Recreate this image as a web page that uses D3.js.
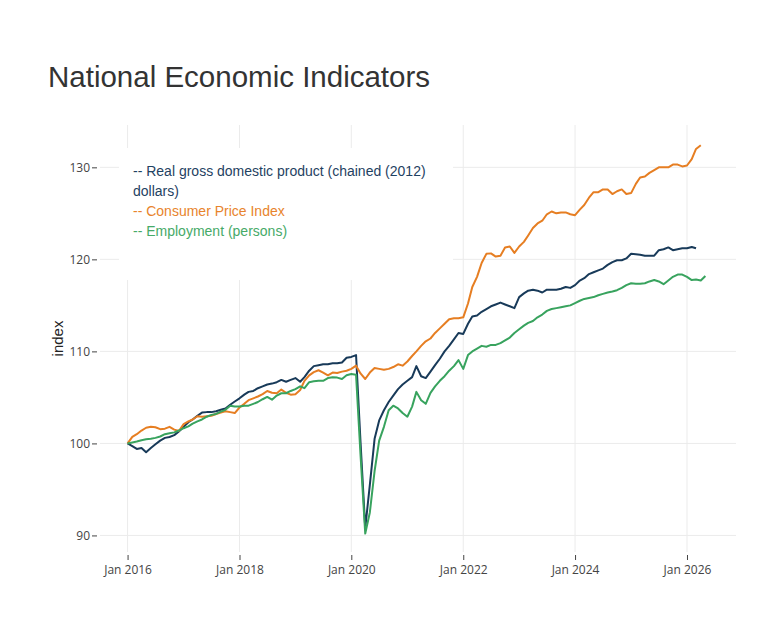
<!DOCTYPE html>
<html>
<head>
<meta charset="utf-8">
<script src="https://cdn.jsdelivr.net/npm/d3@7"></script>
<style>
  body { margin: 0; background: #fff; }
</style>
</head>
<body>
<div id="chart"></div>
<script>
// monthly index values, first month = Jan 2016
const startMonth = new Date(2016, 0, 1);

const gdp = [100.0, 99.7, 99.4, 99.5, 99.05, 99.5, 99.9, 100.3, 100.6, 100.7,
  100.9, 101.3, 101.8, 102.3, 102.6, 103.0, 103.35, 103.4, 103.4, 103.5,
  103.65, 103.8, 104.2, 104.55, 104.9, 105.3, 105.6, 105.7, 106.0, 106.2,
  106.4, 106.5, 106.65, 106.9, 106.7, 106.9, 107.1, 106.7, 107.2, 107.9,
  108.4, 108.5, 108.6, 108.6, 108.7, 108.7, 108.8, 109.3, 109.4, 109.6,
  100.2, 90.8, 95.5, 100.5, 102.5, 103.6, 104.5, 105.2, 105.9, 106.4,
  106.8, 107.2, 108.4, 107.3, 107.1, 107.8, 108.5, 109.2, 110.0, 110.6,
  111.3, 112.0, 111.9, 113.0, 113.8, 113.9, 114.3, 114.6, 114.9, 115.1,
  115.3, 115.1, 114.9, 114.7, 115.9, 116.3, 116.6, 116.7, 116.6, 116.4,
  116.7, 116.7, 116.7, 116.8, 117.0, 116.9, 117.2, 117.7, 117.95, 118.4,
  118.6, 118.8, 119.0, 119.4, 119.7, 119.9, 119.9, 120.1, 120.6, 120.55,
  120.5, 120.4, 120.4, 120.4, 121.0, 121.1, 121.3, 121.0, 121.1, 121.2,
  121.2, 121.35, 121.2];

const cpi = [100.0, 100.7, 101.0, 101.4, 101.7, 101.8, 101.75, 101.55, 101.6, 101.8,
  101.5, 101.35, 102.1, 102.4, 102.6, 102.95, 102.9, 102.95, 103.0, 103.2,
  103.35, 103.5, 103.4, 103.3, 103.9, 104.3, 104.7, 104.9, 105.1, 105.35,
  105.7, 105.5, 105.45, 105.85, 105.5, 105.3, 105.35, 105.8, 106.8, 107.4,
  107.75, 107.95, 107.7, 107.4, 107.7, 107.65, 107.8, 107.9, 108.1, 108.45,
  107.6, 107.0, 107.7, 108.2, 108.1, 108.0, 108.1, 108.3, 108.6, 108.45,
  108.9, 109.5, 110.0, 110.6, 111.1, 111.4, 112.0, 112.5, 113.0, 113.5,
  113.6, 113.6, 113.7, 115.2, 117.0, 118.1, 119.6, 120.6, 120.65, 120.3,
  120.4, 121.3, 121.4, 120.7, 121.4, 121.9, 122.6, 123.4, 123.9, 124.2,
  124.9, 125.2, 125.0, 125.1, 125.1, 124.9, 124.8, 125.4, 125.9, 126.7,
  127.3, 127.3, 127.6, 127.6, 127.1, 127.4, 127.6, 127.1, 127.2, 128.2,
  128.9, 129.0, 129.4, 129.7, 130.0, 130.0, 130.0, 130.3, 130.3, 130.1,
  130.2, 130.9, 132.0, 132.4];

const employment = [100.0, 100.1, 100.2, 100.35, 100.45, 100.5, 100.6, 100.75, 101.0, 101.1,
  101.2, 101.4, 101.65, 101.85, 102.15, 102.4, 102.6, 102.9, 103.1, 103.2,
  103.45, 103.65, 104.1, 104.0, 104.0, 104.1, 104.1, 104.3, 104.5, 104.8,
  105.05, 104.75, 105.2, 105.45, 105.45, 105.7, 105.9, 106.2, 106.0, 106.65,
  106.75, 106.8, 106.8, 107.1, 107.2, 107.15, 107.0, 107.4, 107.55, 107.45,
  98.8, 90.2, 92.5, 97.0, 100.3, 101.8, 103.6, 104.1, 103.8, 103.3,
  102.9, 104.0, 105.6, 104.7, 104.3, 105.5, 106.2, 106.8, 107.3, 107.9,
  108.4, 109.05, 108.1, 109.6, 110.0, 110.3, 110.6, 110.5, 110.7, 110.7,
  110.9, 111.2, 111.5, 112.0, 112.4, 112.8, 113.1, 113.3, 113.7, 114.0,
  114.4, 114.6, 114.7, 114.8, 114.9, 115.0, 115.25, 115.5, 115.7, 115.8,
  115.9, 116.1, 116.25, 116.4, 116.5, 116.65, 116.9, 117.2, 117.4, 117.35,
  117.35, 117.4, 117.6, 117.75, 117.6, 117.3, 117.7, 118.1, 118.35, 118.35,
  118.1, 117.75, 117.8, 117.7, 118.2];

const seriesNames = ["Real gross domestic product (chained (2012) dollars)", "Consumer Price Index", "Employment (persons)"];
const legendLines = [["-- Real gross domestic product (chained (2012)", "dollars)"], ["-- Consumer Price Index"], ["-- Employment (persons)"]];
const tickYears = [2016, 2018, 2020, 2022, 2024, 2026];
const yTicks = [90, 100, 110, 120, 130];

const colors = ["#183a59", "#e67e22", "#38a35e"];
const textColors = ["#1f4262", "#e8842c", "#46aa68"];

const width = 776, height = 640;
const plot = {left: 100, right: 736, top: 125, bottom: 552};

const svg = d3.select("#chart").append("svg")
  .attr("width", width)
  .attr("height", height)
  .style("font-family", "'Liberation Sans', Arial, sans-serif");

const series = [gdp, cpi, employment].map((vals, s) => ({
  name: seriesNames[s],
  color: colors[s],
  points: vals.map((v, i) => ({date: d3.timeMonth.offset(startMonth, i), value: v}))
}));

const x = d3.scaleTime()
  .domain([new Date(2015, 6, 5), new Date(2026, 10, 17)])
  .range([plot.left, plot.right]);
const y = d3.scaleLinear()
  .domain([88.2, 134.6])
  .range([plot.bottom, plot.top]);

// title
svg.append("text")
  .attr("x", 48)
  .attr("y", 87)
  .attr("font-size", "29.5px")
  .attr("fill", "#333")
  .text("National Economic Indicators");

// grid
const tickDates = tickYears.map(yr => new Date(yr, 0, 1));
svg.append("g").selectAll("line")
  .data(tickDates)
  .join("line")
    .attr("x1", d => x(d)).attr("x2", d => x(d))
    .attr("y1", plot.top).attr("y2", plot.bottom)
    .attr("stroke", "#ebebeb").attr("stroke-width", 1);
svg.append("g").selectAll("line")
  .data(yTicks)
  .join("line")
    .attr("x1", plot.left).attr("x2", plot.right)
    .attr("y1", d => y(d)).attr("y2", d => y(d))
    .attr("stroke", "#ebebeb").attr("stroke-width", 1);

// y axis
const yAxis = svg.append("g")
  .attr("transform", `translate(${plot.left - 3},0)`)
  .call(d3.axisLeft(y).tickValues(yTicks).tickSize(5).tickPadding(2));
// x axis
const xAxis = svg.append("g")
  .attr("transform", `translate(0,${plot.bottom + 3})`)
  .call(d3.axisBottom(x).tickValues(tickDates).tickSize(5).tickPadding(5).tickFormat(d3.timeFormat("%b %Y")));
[yAxis, xAxis].forEach(a => {
  a.select(".domain").remove();
  a.selectAll(".tick line").attr("stroke", "#444");
  a.selectAll(".tick text")
    .attr("fill", "#444")
    .attr("font-size", "12px")
    .attr("font-family", "'Open Sans', 'DejaVu Sans', sans-serif");
});

// y axis title
svg.append("text")
  .attr("transform", `translate(63,${(plot.top + plot.bottom) / 2}) rotate(-90)`)
  .attr("text-anchor", "middle")
  .attr("font-size", "15px")
  .attr("fill", "#222")
  .text("index");

// legend box
svg.append("rect")
  .attr("x", 119).attr("y", 148)
  .attr("width", 334).attr("height", 132)
  .attr("fill", "#fff");

const legend = svg.append("g").attr("font-size", "14px");
let row = 0;
legendLines.forEach((lines, s) => {
  lines.forEach(line => {
    legend.append("text")
      .attr("x", 133)
      .attr("y", 176 + row * 20)
      .attr("fill", textColors[s])
      .text(line);
    row++;
  });
});

// lines
const line = d3.line()
  .x(d => x(d.date))
  .y(d => y(d.value));

svg.append("g").selectAll("path")
  .data(series)
  .join("path")
    .attr("d", d => line(d.points))
    .attr("fill", "none")
    .attr("stroke", d => d.color)
    .attr("stroke-width", 2)
    .attr("stroke-linejoin", "round");
</script>
</body>
</html>
